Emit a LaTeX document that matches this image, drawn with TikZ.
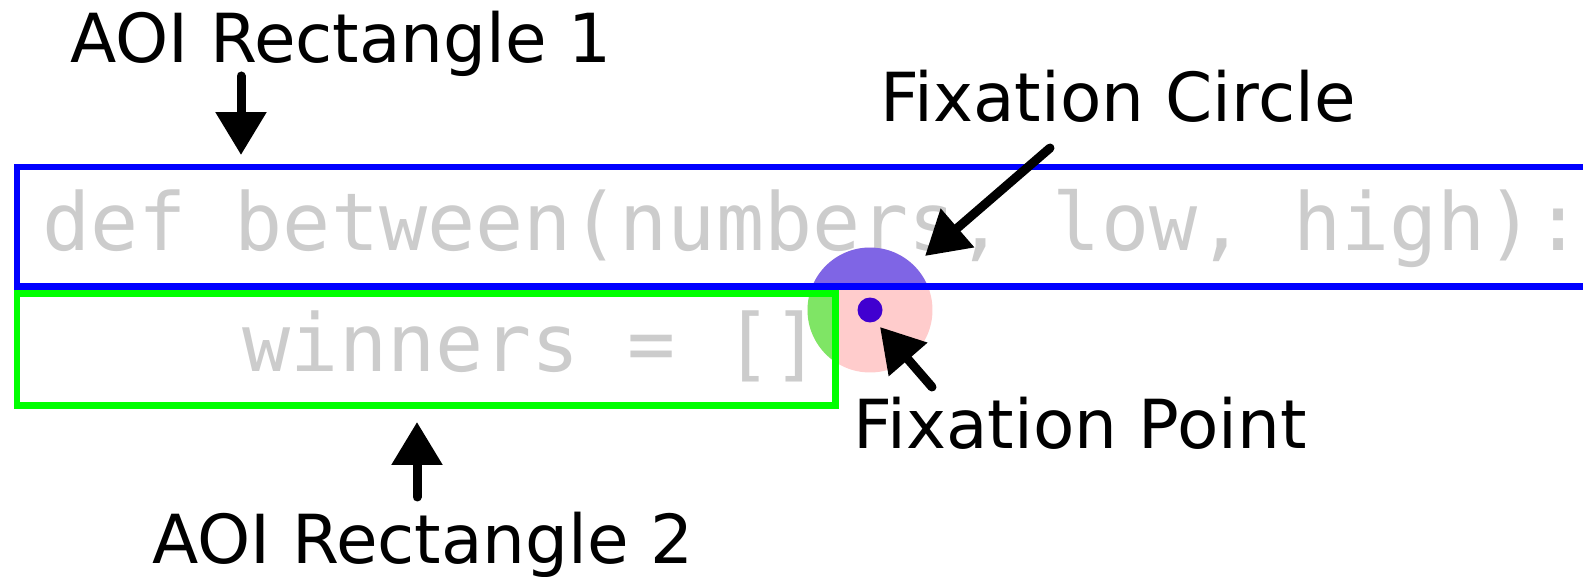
\documentclass[tikz,border=0pt]{standalone}
\usepackage{fontspec}
\setmainfont{DejaVu Sans}
\setmonofont{DejaVu Sans Mono}
\usetikzlibrary{arrows.meta, positioning}
\definecolor{aoiblue}{RGB}{0,0,255}
\definecolor{aoigreen}{RGB}{0,255,0}
\definecolor{codegray}{RGB}{204,204,204}
\definecolor{fixpink}{RGB}{255,204,204}
\definecolor{fixdot}{RGB}{64,0,208}

\begin{document}
\begin{tikzpicture}[
  x=0.02cm, y=-0.02cm,
  lbl/.style={font=\fontsize{38.5}{41}\selectfont, inner sep=0pt, anchor=base west},
  codeline/.style={font=\ttfamily\fontsize{45.5}{48}\selectfont, text=codegray, inner sep=0pt, anchor=base west},
  aoibox/.style={draw, line width=0.13cm, inner sep=0pt, outer sep=0pt, anchor=north west},
  arrow/.style={-{Triangle[length=0.86cm, width=0.98cm]}, line width=0.18cm, line cap=round}
]
  \useasboundingbox (0,0) rectangle (1583,577);

  % source code lines
  \node[codeline] (lineone) at (42,251) {def between(numbers, low, high):};
  \node[codeline] (linetwo) at (50,372) {\ \ \ \ winners = []};

  % fixation circle, tinted where it falls inside an AOI
  \coordinate (fix) at (870,310);
  \fill[fixpink] (fix) circle[radius=1.25cm];
  \begin{scope}
    \clip (17,167) rectangle (1650,286.5);
    \fill[aoiblue, opacity=0.5] (fix) circle[radius=1.25cm];
  \end{scope}
  \begin{scope}
    \clip (17,293.5) rectangle (835.5,405.5);
    \fill[aoigreen, opacity=0.5] (fix) circle[radius=1.25cm];
  \end{scope}

  % AOI rectangles
  \node[aoibox, draw=aoiblue, minimum width=32.66cm, minimum height=2.39cm]
    (aoione) at (17,167) {};
  \node[aoibox, draw=aoigreen, minimum width=16.37cm, minimum height=2.24cm]
    (aoitwo) at (17,293.5) {};

  % fixation point
  \node[circle, fill=fixdot, inner sep=0pt, minimum size=0.5cm] (fixpoint) at (fix) {};

  % labels
  \node[lbl] (aoionelbl) at (70,63) {AOI Rectangle 1};
  \node[lbl] (aoitwolbl) at (152,563) {AOI Rectangle 2};
  \node[lbl] (circlelbl) at (880,122) {Fixation Circle};
  \node[lbl] (pointlbl) at (853,449) {Fixation Point};

  % arrows
  \coordinate (aoionetail) at (241,76);
  \coordinate (aoionetip) at (241,155);
  \coordinate (aoitwotail) at (417,497);
  \coordinate (aoitwotip) at (417,422);
  \coordinate (circletail) at (1050,148);
  \coordinate (circletip) at (925,256);
  \coordinate (pointtail) at (932,387);
  \coordinate (pointtip) at (880,327);
  \draw[arrow] (aoionetail) -- (aoionetip);
  \draw[arrow] (aoitwotail) -- (aoitwotip);
  \draw[arrow] (circletail) -- (circletip);
  \draw[arrow] (pointtail) -- (pointtip);
\end{tikzpicture}
\end{document}
